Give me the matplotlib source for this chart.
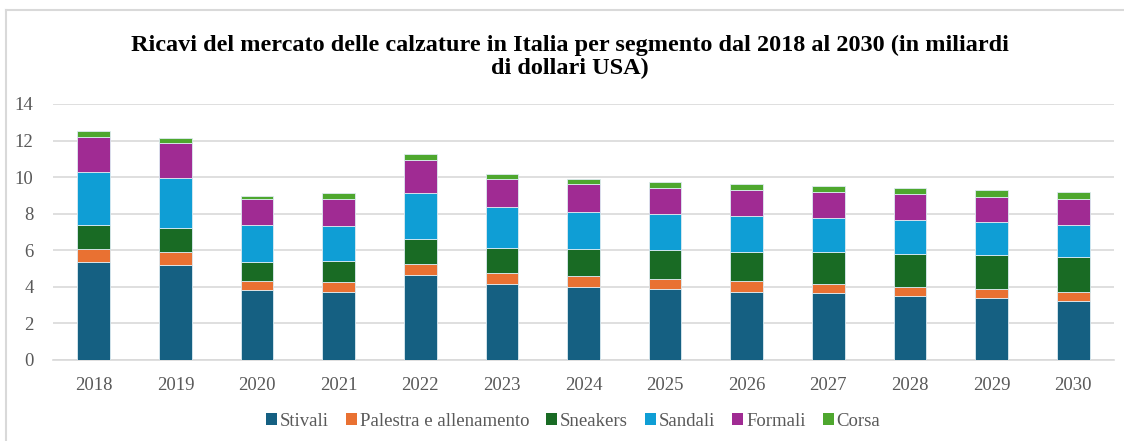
import matplotlib
matplotlib.use("Agg")
import matplotlib.pyplot as plt
import numpy as np
from matplotlib.lines import Line2D
from matplotlib.patches import Patch

plt.rcParams["font.family"] = ["Liberation Serif", "DejaVu Serif"]

years = ["2018", "2019", "2020", "2021", "2022", "2023", "2024", "2025", "2026", "2027", "2028", "2029", "2030"]
series_names = ["Stivali", "Palestra e allenamento", "Sneakers", "Sandali", "Formali", "Corsa"]
stivali = [5.38, 5.22, 3.81, 3.70, 4.64, 4.18, 4.01, 3.91, 3.74, 3.65, 3.49, 3.38, 3.21]
palestra = [0.70, 0.66, 0.51, 0.57, 0.63, 0.58, 0.59, 0.52, 0.58, 0.53, 0.51, 0.53, 0.51]
sneakers = [1.33, 1.33, 1.06, 1.17, 1.37, 1.39, 1.49, 1.61, 1.61, 1.73, 1.80, 1.83, 1.91]
sandali = [2.86, 2.74, 1.99, 1.90, 2.52, 2.23, 1.99, 1.93, 1.93, 1.83, 1.83, 1.78, 1.78]
formali = [1.94, 1.89, 1.43, 1.49, 1.77, 1.51, 1.52, 1.46, 1.46, 1.47, 1.47, 1.42, 1.42]
corsa = [0.34, 0.31, 0.18, 0.28, 0.35, 0.27, 0.29, 0.30, 0.30, 0.33, 0.28, 0.33, 0.34]
colors = ["#156082", "#E97132", "#196B24", "#0F9ED5", "#A02B93", "#4EA72E"]
yticks = [0, 2, 4, 6, 8, 10, 12, 14]

W, H = 1124, 441
fig = plt.figure(figsize=(W / 100, H / 100), dpi=100)
ax = fig.add_axes([53 / W, 1 - 360 / H, (1114 - 53) / W, (360 - 104) / H])

x = np.arange(len(years))
bottom = np.zeros(len(years))
all_series = [stivali, palestra, sneakers, sandali, formali, corsa]
for name, vals, c in zip(series_names, all_series, colors):
    vals = np.array(vals)
    ax.bar(x, vals, 0.40, bottom=bottom, color=c, edgecolor="#DDEBF2", linewidth=0.6, label=name, zorder=3)
    bottom += vals

ax.set_xlim(-0.5, len(years) - 0.5)
ax.set_ylim(0, 14)
ax.set_yticks(yticks)
ax.set_xticks(x)
ax.set_xticklabels(years)
ax.grid(axis="y", color="#D9D9D9", linewidth=1.2, zorder=0)
for s in ["top", "right", "left"]:
    ax.spines[s].set_visible(False)
ax.spines["bottom"].set_color("#D9D9D9")
ax.spines["bottom"].set_linewidth(1.2)
ax.tick_params(axis="both", length=0, labelsize=13.5, labelcolor="#595959")
ax.tick_params(axis="y", pad=14)
ax.tick_params(axis="x", pad=12)

fig.text(570 / W, 1 - 57 / H, "Ricavi del mercato delle calzature in Italia per segmento dal 2018 al 2030 (in miliardi\ndi dollari USA)",
         ha="center", va="center", fontsize=17.5, fontweight="bold",
         linespacing=1.08, color="black")

handles = [Patch(facecolor=c, edgecolor="none") for c in colors]
leg = fig.legend(handles, series_names, loc="center", bbox_to_anchor=(573 / W, 1 - 421 / H), ncol=6,
                 frameon=False, handlelength=0.6, handleheight=0.6, handletextpad=0.15,
                 columnspacing=0.9, prop={"family": "Liberation Serif", "size": 13.5})
for t in leg.get_texts():
    t.set_color("#595959")

# outer chart border (left and top visible)
fig.add_artist(Line2D([6 / W, 6 / W], [0, 1 - 10 / H], color="#D9D9D9", linewidth=1.5, transform=fig.transFigure))
fig.add_artist(Line2D([6 / W, 1], [1 - 10 / H, 1 - 10 / H], color="#D9D9D9", linewidth=1.5, transform=fig.transFigure))

fig.savefig("out.png", dpi=100)
